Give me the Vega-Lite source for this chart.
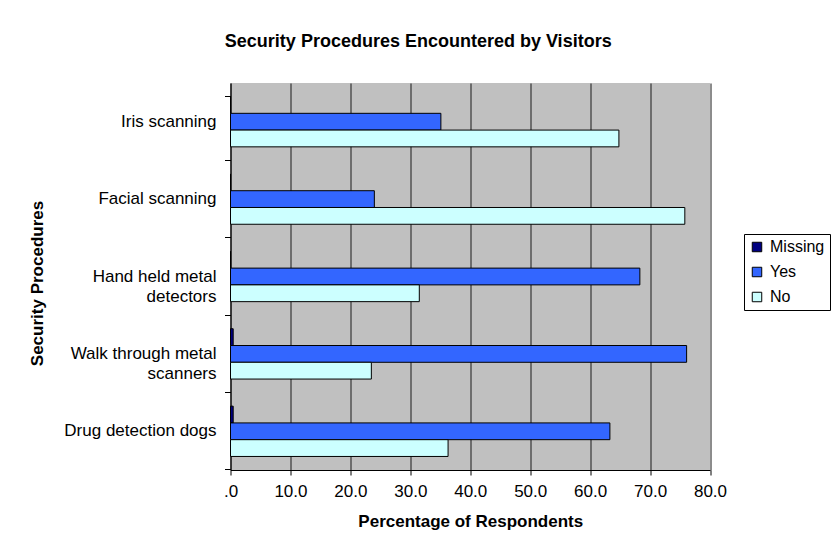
{
  "$schema": "https://vega.github.io/schema/vega-lite/v6.json",
  "width": 479.5,
  "height": 387,
  "autosize": "none",
  "padding": {"left": 230.5, "top": 83, "right": 123, "bottom": 81},
  "background": "white",
  "title": {
    "text": "Security Procedures Encountered by Visitors",
    "font": "Liberation Sans",
    "fontSize": 18,
    "fontWeight": "bold",
    "color": "black",
    "anchor": "middle",
    "frame": "group",
    "offset": 31,
    "dy": 8,
    "dx": -52
  },
  "data": {
    "values": [
      {"procedure": "Iris scanning", "response": "Missing", "percent": 0},
      {"procedure": "Iris scanning", "response": "Yes", "percent": 35.1},
      {"procedure": "Iris scanning", "response": "No", "percent": 64.8},
      {"procedure": "Facial scanning", "response": "Missing", "percent": 0},
      {"procedure": "Facial scanning", "response": "Yes", "percent": 24.0},
      {"procedure": "Facial scanning", "response": "No", "percent": 75.8},
      {"procedure": "Hand held metal detectors", "response": "Missing", "percent": 0},
      {"procedure": "Hand held metal detectors", "response": "Yes", "percent": 68.3},
      {"procedure": "Hand held metal detectors", "response": "No", "percent": 31.5},
      {"procedure": "Walk through metal scanners", "response": "Missing", "percent": 0.45},
      {"procedure": "Walk through metal scanners", "response": "Yes", "percent": 76.1},
      {"procedure": "Walk through metal scanners", "response": "No", "percent": 23.5},
      {"procedure": "Drug detection dogs", "response": "Missing", "percent": 0.45},
      {"procedure": "Drug detection dogs", "response": "Yes", "percent": 63.3},
      {"procedure": "Drug detection dogs", "response": "No", "percent": 36.3}
    ]
  },
  "mark": {"type": "bar", "stroke": "black", "strokeWidth": 1},
  "encoding": {
    "y": {
      "field": "procedure",
      "type": "nominal",
      "sort": ["Iris scanning", "Facial scanning", "Hand held metal detectors", "Walk through metal scanners", "Drug detection dogs"],
      "scale": {"paddingInner": 0.35, "paddingOuter": 0.175},
      "axis": {
        "title": "Security Procedures",
        "titleFont": "Liberation Sans",
        "titleFontSize": 17,
        "titleFontWeight": "bold",
        "titleColor": "black",
        "titleX": -184.5,
        "titleY": 200,
        "labelFont": "Liberation Sans",
        "labelFontSize": 17,
        "labelColor": "black",
        "labelPadding": 8.5,
        "labelLimit": 300,
        "labelLineHeight": 20,
        "labelExpr": "datum.label == 'Hand held metal detectors' ? ['Hand held metal', 'detectors\u00a0\u00a0\u00a0\u00a0\u00a0\u00a0'] : datum.label == 'Walk through metal scanners' ? ['Walk through metal', 'scanners\u00a0\u00a0\u00a0\u00a0\u00a0\u00a0\u00a0\u00a0'] : datum.label",
        "tickSize": 6,
        "tickColor": "black",
        "bandPosition": 1.2692,
        "tickExtra": true,
        "domainColor": "black",
        "grid": false
      }
    },
    "yOffset": {"field": "response", "type": "nominal", "sort": ["Missing", "Yes", "No"]},
    "x": {
      "field": "percent",
      "type": "quantitative",
      "scale": {"domain": [0, 80], "nice": false},
      "axis": {
        "title": "Percentage of Respondents",
        "titleFont": "Liberation Sans",
        "titleFontSize": 17,
        "titleFontWeight": "bold",
        "titleColor": "black",
        "titlePadding": 14,
        "values": [0, 10, 20, 30, 40, 50, 60, 70, 80],
        "labelExpr": "datum.value == 0 ? '.0' : format(datum.value, '.1f')",
        "labelFont": "Liberation Sans",
        "labelFontSize": 17,
        "labelColor": "black",
        "labelPadding": 8,
        "labelFlush": false,
        "labelOverlap": false,
        "grid": true,
        "gridColor": "#1a1a1a",
        "gridWidth": 1,
        "tickSize": 5,
        "tickColor": "black",
        "domainColor": "black"
      }
    },
    "color": {
      "field": "response",
      "type": "nominal",
      "scale": {"domain": ["Missing", "Yes", "No"], "range": ["#000080", "#3366FF", "#CCFFFF"]},
      "legend": {
        "title": null,
        "orient": "none",
        "legendX": 513.5,
        "legendY": 151,
        "fillColor": "white",
        "strokeColor": "black",
        "padding": 5,
        "symbolType": "square",
        "symbolSize": 90,
        "symbolStrokeColor": "black",
        "symbolStrokeWidth": 1,
        "labelFont": "Liberation Sans",
        "labelFontSize": 16,
        "labelColor": "black",
        "rowPadding": 9,
        "labelOffset": 5
      }
    }
  },
  "config": {"view": {"fill": "#C0C0C0", "stroke": null}}
}
